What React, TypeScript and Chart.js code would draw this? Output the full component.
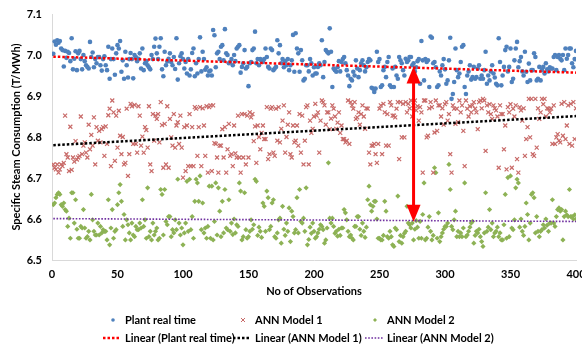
import React, { useEffect, useRef } from "react";
import { Chart, registerables } from "chart.js";
Chart.register(...registerables);

// ---- Data ----
const plantRealTime = [
  7.003,7.033,7.025,7.036,7.03,7.034,7.016,7.012,6.972,7.01,6.993,7.008,7.005,6.985,7.041,6.965,6.991,7.009,6.963,7.004,
  7.01,6.99,6.965,7.0,6.985,6.975,6.971,6.967,7.032,6.995,7.006,6.97,6.99,6.98,6.995,6.995,6.975,6.962,6.99,6.997,
  6.975,6.963,7.02,6.942,6.99,7.016,6.99,6.952,7.004,7.024,7.016,7.034,6.959,6.987,6.942,7.008,6.975,6.945,6.99,7.005,
  6.99,6.943,7.0,6.995,6.985,6.991,7.004,6.967,7.016,6.963,6.98,6.985,6.975,6.97,6.965,7.0,6.99,7.02,7.04,7.004,
  6.99,7.02,7.041,6.965,6.948,7.008,6.975,6.984,6.991,7.004,6.983,6.975,6.995,6.966,7.041,6.94,6.98,6.997,7.004,6.99,
  6.967,6.983,6.955,6.99,6.95,6.965,7.005,7.016,6.948,6.98,6.955,6.99,7.043,6.96,7.008,6.99,6.964,6.97,6.95,6.96,
  6.962,6.95,7.061,7.048,6.97,7.004,7.008,6.99,7.02,7.024,6.987,7.063,7.004,7.0,6.98,6.983,6.99,6.975,7.0,6.985,
  7.016,7.02,7.024,6.957,6.971,6.98,7.012,6.967,6.971,6.924,6.98,6.983,7.012,7.016,7.057,6.98,6.99,6.975,6.99,6.985,
  6.983,6.99,7.016,6.995,6.971,6.967,7.016,7.012,6.963,6.967,6.971,7.036,7.004,7.024,6.98,6.99,6.97,6.985,6.975,6.99,
  6.963,6.975,6.987,7.049,6.959,7.053,7.016,7.004,6.959,7.012,6.987,6.938,6.942,6.975,6.975,6.96,6.99,6.98,6.95,6.97,
  6.955,6.955,6.971,6.98,6.975,7.036,6.946,6.983,7.012,7.008,7.004,7.065,7.008,6.922,6.967,6.963,6.959,6.97,6.985,6.96,
  6.983,6.99,6.995,6.98,6.963,6.95,6.924,6.942,6.938,6.959,6.95,6.987,6.967,6.946,6.963,6.98,6.987,6.975,6.96,6.97,
  6.983,6.99,6.987,6.92,6.918,6.91,6.918,7.008,6.983,6.99,6.922,6.926,6.963,6.971,6.946,6.983,6.995,6.926,6.922,6.967,
  6.922,6.971,6.95,6.942,6.995,6.987,6.98,6.963,6.95,6.991,6.983,6.987,6.995,6.995,6.975,6.98,6.96,6.97,6.985,6.99,
  6.93,7.034,6.987,6.938,6.99,6.983,6.987,6.922,7.045,7.042,6.98,6.983,6.97,6.922,6.926,6.96,6.95,6.975,6.99,6.965,
  6.93,6.938,6.987,7.042,6.893,6.905,6.934,7.016,6.963,6.946,6.955,6.983,7.02,7.024,6.922,6.905,6.95,6.96,6.975,6.94,
  6.946,6.971,6.942,6.946,6.967,6.975,6.942,6.95,6.942,6.963,7.008,6.93,6.95,6.938,6.96,6.975,6.955,6.945,6.93,6.926,
  7.041,6.983,6.926,6.95,6.971,7.012,7.02,6.96,6.971,7.016,6.934,6.942,6.987,7.016,7.032,6.97,6.985,6.995,6.96,6.95,
  7.008,6.959,6.934,6.979,6.938,6.963,6.963,7.004,6.995,6.938,6.942,6.971,6.938,6.963,6.971,6.955,6.98,6.965,6.96,6.97,
  6.967,6.967,6.995,7.0,6.963,6.995,7.0,6.991,6.987,7.0,6.963,7.016,6.991,7.0,7.016,7.016,6.98,6.97,6.99,7.01,
];

const annModel1 = [
  6.733,6.725,6.721,6.733,6.713,6.721,6.733,6.729,6.737,6.852,6.758,6.75,6.717,6.825,6.72,6.75,6.74,6.79,6.745,6.75,
  6.754,6.85,6.758,6.779,6.787,6.762,6.75,6.83,6.77,6.805,6.779,6.848,6.733,6.824,6.791,6.815,6.787,6.819,6.824,6.754,
  6.826,6.783,6.853,6.869,6.729,6.889,6.86,6.742,6.852,6.774,6.864,6.803,6.758,6.8,6.733,6.737,6.869,6.705,6.758,6.881,
  6.875,6.783,6.878,6.783,6.762,6.875,6.852,6.779,6.801,6.762,6.824,6.817,6.774,6.875,6.733,6.717,6.856,6.791,6.852,6.844,
  6.856,6.787,6.885,6.829,6.725,6.832,6.733,6.875,6.725,6.844,6.799,6.779,6.856,6.774,6.828,6.836,6.783,6.852,6.774,6.701,
  6.824,6.717,6.828,6.729,6.856,6.729,6.824,6.729,6.873,6.869,6.754,6.824,6.873,6.729,6.87,6.828,6.754,6.875,6.713,6.873,
  6.877,6.717,6.877,6.785,6.783,6.75,6.713,6.779,6.779,6.819,6.75,6.824,6.713,6.77,6.832,6.754,6.758,6.729,6.828,6.76,
  6.75,6.852,6.75,6.713,6.856,6.75,6.856,6.733,6.852,6.75,6.86,6.848,6.856,6.79,6.826,6.737,6.828,6.8,6.77,6.81,
  6.828,6.795,6.795,6.873,6.746,6.758,6.869,6.873,6.762,6.754,6.869,6.791,6.873,6.787,6.82,6.84,6.877,6.762,6.8,6.83,
  6.86,6.758,6.75,6.828,6.787,6.791,6.828,6.779,6.856,6.762,6.852,6.733,6.791,6.873,6.877,6.733,6.84,6.81,6.82,6.85,
  6.881,6.852,6.86,6.762,6.84,6.889,6.885,6.877,6.83,6.86,6.86,6.819,6.845,6.877,6.869,6.85,6.82,6.835,6.86,6.81,
  6.828,6.795,6.795,6.787,6.791,6.889,6.783,6.885,6.877,6.869,6.885,6.844,6.848,6.86,6.83,6.856,6.877,6.85,6.82,6.87,
  6.869,6.762,6.733,6.779,6.779,6.783,6.758,6.737,6.783,6.869,6.877,6.758,6.881,6.86,6.779,6.856,6.779,6.885,6.877,6.852,
  6.852,6.848,6.869,6.885,6.746,6.885,6.799,6.881,6.799,6.885,6.86,6.881,6.87,6.889,6.85,6.877,6.889,6.865,6.875,6.84,
  6.873,6.86,6.713,6.889,6.889,6.799,6.803,6.87,6.885,6.873,6.713,6.811,6.889,6.815,6.877,6.877,6.85,6.87,6.83,6.88,
  6.885,6.84,6.856,6.758,6.713,6.877,6.869,6.832,6.869,6.836,6.889,6.86,6.877,6.815,6.729,6.889,6.869,6.85,6.875,6.86,
  6.877,6.885,6.869,6.86,6.819,6.885,6.889,6.87,6.893,6.889,6.766,6.877,6.86,6.88,6.856,6.844,6.877,6.87,6.865,6.85,
  6.725,6.877,6.856,6.856,6.77,6.828,6.721,6.873,6.86,6.88,6.725,6.869,6.85,6.877,6.746,6.713,6.873,6.865,6.84,6.87,
  6.754,6.795,6.824,6.893,6.799,6.893,6.758,6.754,6.893,6.774,6.87,6.844,6.86,6.893,6.88,6.893,6.85,6.87,6.869,6.86,
  6.869,6.783,6.877,6.783,6.799,6.807,6.791,6.787,6.881,6.803,6.885,6.795,6.828,6.877,6.783,6.881,6.779,6.885,6.795,6.87,
];

const annModel2 = [
  6.635,6.639,6.652,6.66,6.664,6.66,6.635,6.631,6.639,6.623,6.619,6.582,6.602,6.553,6.664,6.664,6.59,6.647,6.575,6.553,
  6.553,6.582,6.578,6.623,6.578,6.553,6.557,6.57,6.549,6.66,6.598,6.57,6.561,6.561,6.59,6.561,6.582,6.566,6.574,6.57,
  6.57,6.549,6.647,6.537,6.578,6.623,6.553,6.57,6.574,6.635,6.664,6.684,6.643,6.582,6.611,6.549,6.598,6.586,6.566,6.549,
  6.59,6.561,6.557,6.582,6.574,6.574,6.59,6.578,6.647,6.582,6.598,6.553,6.676,6.557,6.57,6.549,6.59,6.561,6.57,6.578,
  6.549,6.553,6.672,6.66,6.561,6.672,6.594,6.586,6.606,6.606,6.557,6.574,6.566,6.598,6.574,6.697,6.59,6.561,6.578,6.537,
  6.566,6.59,6.692,6.57,6.697,6.574,6.606,6.553,6.643,6.697,6.688,6.643,6.705,6.574,6.639,6.566,6.578,6.553,6.582,6.68,
  6.553,6.68,6.549,6.594,6.688,6.561,6.676,6.619,6.557,6.643,6.566,6.672,6.578,6.574,6.647,6.57,6.59,6.562,6.6,6.566,
  6.586,6.582,6.688,6.668,6.549,6.557,6.664,6.574,6.553,6.557,6.57,6.598,6.575,6.586,6.697,6.692,6.56,6.58,6.57,6.555,
  6.639,6.631,6.57,6.668,6.652,6.574,6.582,6.639,6.647,6.557,6.553,6.566,6.598,6.602,6.541,6.631,6.575,6.56,6.59,6.57,
  6.627,6.545,6.619,6.606,6.566,6.574,6.652,6.566,6.672,6.594,6.59,6.602,6.57,6.676,6.537,6.55,6.58,6.565,6.59,6.57,
  6.553,6.557,6.566,6.575,6.586,6.582,6.574,6.541,6.549,6.578,6.737,6.602,6.59,6.602,6.582,6.565,6.57,6.558,6.575,6.56,
  6.578,6.578,6.623,6.615,6.598,6.57,6.557,6.561,6.553,6.549,6.582,6.582,6.606,6.606,6.575,6.56,6.59,6.57,6.555,6.58,
  6.647,6.68,6.635,6.619,6.631,6.643,6.643,6.6,6.553,6.553,6.549,6.549,6.56,6.643,6.619,6.557,6.553,6.57,6.557,6.537,
  6.533,6.578,6.574,6.656,6.545,6.56,6.541,6.557,6.565,6.57,6.631,6.59,6.586,6.578,6.59,6.549,6.575,6.596,6.58,6.553,
  6.594,6.553,6.611,6.688,6.549,6.553,6.58,6.606,6.57,6.549,6.56,6.725,6.713,6.553,6.615,6.545,6.557,6.566,6.575,6.582,
  6.582,6.59,6.733,6.672,6.582,6.574,6.598,6.619,6.557,6.57,6.557,6.566,6.557,6.578,6.688,6.557,6.561,6.57,6.58,6.59,
  6.594,6.541,6.56,6.57,6.566,6.575,6.557,6.545,6.533,6.566,6.664,6.57,6.58,6.623,6.574,6.59,6.557,6.566,6.57,6.58,
  6.557,6.566,6.549,6.549,6.586,6.66,6.553,6.701,6.557,6.705,6.578,6.574,6.598,6.676,6.697,6.688,6.58,6.6,6.57,6.56,
  6.582,6.639,6.611,6.549,6.59,6.66,6.664,6.652,6.566,6.606,6.57,6.557,6.57,6.574,6.586,6.578,6.6,6.585,6.57,6.59,
  6.59,6.647,6.59,6.582,6.606,6.623,6.627,6.619,6.623,6.549,6.606,6.619,6.61,6.606,6.672,6.606,6.606,6.6,6.61,6.6,
];

// Linear trend lines (start / end at first / last observation)
const trendX = [1, 400];
const trendPlant = [6.996, 6.957];
const trendAnn1 = [6.78, 6.851];
const trendAnn2 = [6.601, 6.594];

// Double arrow annotation (observation number, from value, to value)
const arrowObs = 276;
const arrowFrom = 6.972;
const arrowTo = 6.593;

const X_MIN = 0, X_MAX = 400, X_STEP = 50;
const Y_MIN = 6.5, Y_MAX = 7.1, Y_STEP = 0.1;

const seriesLabels = ["Plant real time", "ANN Model 1", "ANN Model 2"];
const trendLabels = ["Linear (Plant real time)", "Linear (ANN Model 1)", "Linear (ANN Model 2)"];
const xTitle = "No of Observations";
const yTitle = "Specific Steam Consumption (T/MWh)";

const FONT_FAMILY = "Lato, 'Open Sans', sans-serif";
const TEXT_COLOR = "#000000";

const toPoints = (arr: number[]) => arr.map((v, i) => ({ x: i + 1, y: v }));
const toTrend = (ys: number[]) => ys.map((v, i) => ({ x: trendX[i], y: v }));

const arrowPlugin = {
  id: "doubleArrow",
  afterDatasetsDraw(chart: any) {
    const { ctx, scales } = chart;
    const px = scales.x.getPixelForValue(arrowObs);
    const yTop = scales.y.getPixelForValue(arrowFrom);
    const yBot = scales.y.getPixelForValue(arrowTo);
    const head = 17;
    const half = 7;
    ctx.save();
    ctx.strokeStyle = "#FF0000";
    ctx.fillStyle = "#FF0000";
    ctx.lineWidth = 3;
    ctx.beginPath();
    ctx.moveTo(px, yTop + head - 1);
    ctx.lineTo(px, yBot - head + 1);
    ctx.stroke();
    ctx.beginPath();
    ctx.moveTo(px, yTop);
    ctx.lineTo(px - half, yTop + head);
    ctx.lineTo(px + half, yTop + head);
    ctx.closePath();
    ctx.fill();
    ctx.beginPath();
    ctx.moveTo(px, yBot);
    ctx.lineTo(px - half, yBot - head);
    ctx.lineTo(px + half, yBot - head);
    ctx.closePath();
    ctx.fill();
    ctx.restore();
  },
};

const LEGEND_COL_X = [125, 255, 387];
const LEGEND_ROW_Y = [320, 338];

const legendPlugin = {
  id: "gridLegend",
  afterDraw(chart: any) {
    const { ctx } = chart;
    ctx.save();
    ctx.font = `bold 11px ${FONT_FAMILY}`;
    ctx.textBaseline = "middle";
    ctx.textAlign = "left";
    chart.data.datasets.forEach((ds: any, i: number) => {
      const col = i % 3;
      const row = Math.floor(i / 3);
      const tx = LEGEND_COL_X[col];
      const ty = LEGEND_ROW_Y[row];
      ctx.fillStyle = TEXT_COLOR;
      ctx.fillText(ds.label, tx, ty);
      if (ds.showLine) {
        ctx.strokeStyle = ds.borderColor;
        ctx.lineWidth = ds.borderWidth;
        ctx.setLineDash(ds.borderDash || []);
        ctx.beginPath();
        ctx.moveTo(tx - 22, ty);
        ctx.lineTo(tx - 4, ty);
        ctx.stroke();
        ctx.setLineDash([]);
      } else {
        const mx = tx - 12;
        const style = ds.pointStyle;
        ctx.fillStyle = ds.backgroundColor;
        ctx.strokeStyle = ds.borderColor;
        if (style === "circle") {
          ctx.beginPath();
          ctx.arc(mx, ty, 1.8, 0, Math.PI * 2);
          ctx.fill();
        } else if (style === "crossRot") {
          ctx.lineWidth = 1;
          const r = 2;
          ctx.beginPath();
          ctx.moveTo(mx - r, ty - r);
          ctx.lineTo(mx + r, ty + r);
          ctx.moveTo(mx + r, ty - r);
          ctx.lineTo(mx - r, ty + r);
          ctx.stroke();
        } else {
          const r = 2;
          ctx.beginPath();
          ctx.moveTo(mx, ty - r);
          ctx.lineTo(mx + r, ty);
          ctx.lineTo(mx, ty + r);
          ctx.lineTo(mx - r, ty);
          ctx.closePath();
          ctx.fill();
        }
      }
    });
    ctx.restore();
  },
};

export default function App() {
  const canvasRef = useRef<HTMLCanvasElement | null>(null);

  useEffect(() => {
    if (!canvasRef.current) return;
    const font = { family: FONT_FAMILY, size: 11, weight: "bold" as const };
    const chart = new Chart(canvasRef.current, {
      type: "scatter",
      data: {
        datasets: [
          {
            label: seriesLabels[0],
            data: toPoints(plantRealTime),
            pointStyle: "circle",
            pointRadius: 2.3,
            backgroundColor: "#4F81BD",
            borderColor: "#4F81BD",
            borderWidth: 0,
            order: 2,
          },
          {
            label: seriesLabels[1],
            data: toPoints(annModel1),
            pointStyle: "crossRot",
            pointRadius: 2.8,
            backgroundColor: "#C0504D",
            borderColor: "#C86A68",
            borderWidth: 1.2,
            order: 2,
          },
          {
            label: seriesLabels[2],
            data: toPoints(annModel2),
            pointStyle: "rectRot",
            pointRadius: 2.6,
            backgroundColor: "#8DB255",
            borderColor: "#8DB255",
            borderWidth: 0,
            order: 2,
          },
          {
            label: trendLabels[0],
            data: toTrend(trendPlant),
            showLine: true,
            pointRadius: 0,
            borderColor: "#FF0000",
            backgroundColor: "#FF0000",
            borderWidth: 2.5,
            borderDash: [2.5, 2],
            order: 1,
          },
          {
            label: trendLabels[1],
            data: toTrend(trendAnn1),
            showLine: true,
            pointRadius: 0,
            borderColor: "#000000",
            backgroundColor: "#000000",
            borderWidth: 2.5,
            borderDash: [2.5, 2],
            order: 1,
          },
          {
            label: trendLabels[2],
            data: toTrend(trendAnn2),
            showLine: true,
            pointRadius: 0,
            borderColor: "#7030A0",
            backgroundColor: "#7030A0",
            borderWidth: 1.6,
            borderDash: [1.6, 1.6],
            order: 1,
          },
        ],
      },
      options: {
        animation: false,
        responsive: false,
        events: [],
        layout: { padding: { left: 0, right: 6, top: 14, bottom: 49 } },
        plugins: {
          legend: { display: false },
          tooltip: { enabled: false },
        },
        scales: {
          x: {
            type: "linear",
            min: X_MIN,
            max: X_MAX,
            ticks: { stepSize: X_STEP, font, color: TEXT_COLOR, padding: 8, maxRotation: 0, autoSkip: false },
            grid: { display: false, drawTicks: false },
            border: { display: true, color: "#D9D9D9", width: 1 },
            title: { display: true, text: xTitle, font, color: TEXT_COLOR, padding: { top: 0, bottom: 0 } },
            afterFit(scale: any) {
              scale.height = 38;
              scale.paddingLeft = 0;
              scale.paddingRight = 0;
            },
          },
          y: {
            type: "linear",
            min: Y_MIN,
            max: Y_MAX,
            ticks: { stepSize: Y_STEP, font, color: TEXT_COLOR, padding: 10 },
            grid: { display: false, drawTicks: false },
            border: { display: true, color: "#D9D9D9", width: 1 },
            title: { display: true, text: yTitle, font, color: TEXT_COLOR, padding: { top: 10, bottom: 0 } },
            afterFit(scale: any) {
              scale.width = 52;
              scale.paddingTop = 0;
              scale.paddingBottom = 0;
            },
          },
        },
      },
      plugins: [arrowPlugin, legendPlugin],
    } as any);
    return () => chart.destroy();
  }, []);

  return (
    <div style={{ position: "absolute", left: 0, top: 0, width: 582, height: 347, background: "#fff" }}>
      <canvas ref={canvasRef} width={582} height={347} style={{ display: "block", width: 582, height: 347 }} />
    </div>
  );
}
